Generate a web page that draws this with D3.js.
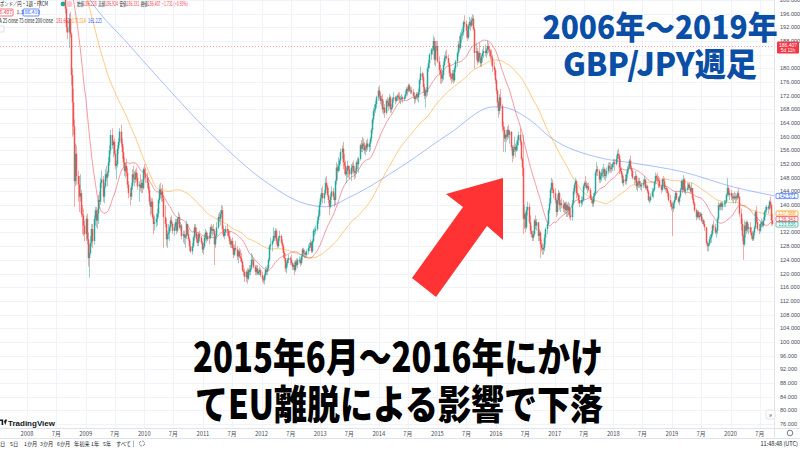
<!DOCTYPE html>
<html lang="ja">
<head>
<meta charset="utf-8">
<script src="https://cdn.jsdelivr.net/npm/d3@7"></script>
<style>
  html, body { margin: 0; padding: 0; background: #fff; }
  svg { display: block; }
</style>
</head>
<body>
<div id="chart"></div>
<script>
// GBP/JPY weekly candles, one [high, low, close] per week; open = previous close
const startOpen = 244.5;
const w2007 = [[247.5,244,246.8],[249.5,246,249],[251.1,247,248],[249,240.5,242],[243.5,238,240.5],[242.5,236,237.2],[237.5,216.5,225],[233,224,232],[233.5,226,229.5],[232,223,226],[229,221.5,228],[234,227,232.5],[236,230,234.8],[238.5,234,237.5],[241,235.5,239],[240.5,230.5,232],[236.5,228,235],[238,232.5,234],[235,228,230.5],[232,222,226],[229,222,223.5],[233,222.5,232],[235,228.5,230.5],[232,226,227],[229,224.5,225.5],[227,222,222.5]];
const w2008 = [[223.5,218,219],[220,213,214.5],[216,208,209.5],[212,204.5,210],[213.5,207.5,208.5],[211,206,210],[213,209,211.5],[214,209.5,212.5],[214,205,206],[207.5,201,203],[205,200.5,201.5],[203.5,197.5,200.5],[202.5,199.2,200.8],[205,200.5,204],[204.5,200.5,202],[205,201,204.5],[208,203.5,206.5],[209,203,204],[205,201,202.5],[205.5,201.5,204.5],[206,202,203],[207.5,202.5,206.5],[211,205,209.5],[213.5,208.5,212.5],[214.5,210.5,212],[214,210.5,213.5],[214.5,210.5,212],[213,208.5,211.5],[215.5,210,214],[215.5,211.5,213.5],[214.5,210,211.5],[212,207,208],[209,204.5,205.5],[207,200.5,202],[203.5,196,197.5],[199,190.5,192],[194,188.5,190.5],[196,186,194.5],[196.5,189,190],[190.5,175,178],[180,160,170],[174,160.5,163],[165,139.5,147],[158,145.5,155],[157.5,146,148.5],[150,141,146],[148.5,138,142.5],[149,141,143.5],[144.5,136.5,137.5],[140,131.5,137],[139,131,134],[135.5,129.5,131.5]];
const w2009 = [[137,129.5,136],[137.5,128.5,130],[132,122,124.5],[128.5,118.8,126],[131,125.5,129],[134.5,128,133],[134.5,127.5,129.5],[137,128.5,136],[139.5,134,138.5],[139.5,133.5,135.5],[139,133,137.5],[143,134.5,141.5],[144,139,141],[148,140,146.5],[150,145,147.5],[148.5,141,142.5],[146.5,140.5,145.5],[150.5,145,149],[151.5,147,148],[150,145.5,149.5],[154,148.5,152.5],[157.5,151.5,156],[162,155,160.5],[162.5,156.5,157.5],[159,154,158.5],[159.5,154.5,155],[156,150.5,151.5],[153,147.5,152],[157.5,151,156.5],[159.5,155,158.5],[162.5,157.5,161.5],[163.5,157,158],[159.5,153.5,155.5],[157,151.5,152.5],[154,148.5,150],[152.5,148,151.5],[153.5,148.5,149.5],[151,145,146],[147,142,143.5],[145,140,142.5],[146.5,141.5,145.5],[150.5,144.5,149],[151.5,146.5,148],[150,145.5,147.5],[150.5,146.5,149.5],[151,147,148],[149.5,144.5,145.5],[147,141,146],[149,144,145],[147.5,143.5,146.5],[147.5,143.5,145],[151,144.5,150.5]];
const w2010 = [[152,147.5,149],[151,146.5,148],[149.5,145,146.5],[148,143.5,144.5],[145.5,140,141],[142.5,137,139.5],[142,137.5,141],[142,136,136.5],[137.5,131.5,134.5],[137,132.5,135],[137.5,133.5,136],[139,134,137.5],[142,136.5,141.5],[146,140.5,144.5],[146.5,142,143],[145,141,144],[146,141,142],[143,127.5,136.5],[140,133.5,134.5],[136,128,130],[132.5,127.5,131.5],[134.5,130,132],[134,129.5,133.5],[136.5,132.5,135.5],[137,134,134.5],[135,131.5,132.5],[134.5,131,133.5],[136,132.5,135],[136,131.5,132.5],[136.5,132,136],[138,134.5,136.5],[137.5,133,133.5],[135,132.5,134],[134.5,130,131],[132.5,129,131.5],[132.5,128.5,130.5],[131.5,127.5,131],[135.5,130,134.5],[134.5,131,131.5],[133,129.5,130],[130.5,126.5,128],[129.5,126,126.5],[129,125.5,128],[131,127.5,130.5],[134.5,129.5,133.5],[134.5,131,132],[133.5,129,130],[131.5,128,129],[132,128,131.5],[132.5,129.5,130.5],[131,128.5,129],[129.5,126,127]];
const w2011 = [[129,125.5,128],[131.5,127.5,130.5],[133,129.5,132],[132.5,129,130],[132,129.5,131],[132,128.5,130.5],[134,130,133.5],[134.5,131.5,132.5],[134,131,133],[134.5,131.5,132.5],[133,122.5,128.5],[131.5,127.5,131],[135,130,133.5],[137.5,133,136.5],[138,135,136],[138.5,134,137.5],[140,136.5,138.5],[139.8,132,133],[134,130.5,131],[133,130,132],[134,131,133],[134.5,131,132.5],[133,130.5,131],[132.5,128.5,129.5],[130.5,127.5,128.5],[130,127.5,129.5],[130.5,127,127.5],[128.5,124.5,125.5],[128.5,125,127.5],[129.5,126.5,127],[128,124,125],[127,123,126.5],[127.5,124.5,125],[127,123.5,124.5],[126,123,123.5],[124,120.5,121],[122.5,119.5,120.5],[121.5,117.5,119],[121,117.5,120.5],[121.5,117,118.5],[121.5,118,121],[122.5,119.5,120.5],[122.5,119.5,121.5],[126,121,124],[125.5,122.5,124],[124.5,121.5,122],[122.5,119.5,120.5],[122.5,119.5,121.5],[122.5,119.5,120],[121,119.5,120.5],[122,119.5,121],[121.5,119,119.5]];
const w2012 = [[120.5,117.5,118.5],[119,117,118],[120,116.8,119.5],[122,118.5,121],[122,119.5,120.5],[122.5,119.5,121.5],[124.5,121,124],[128.5,123.5,128],[130.5,127,128.5],[130,126.5,129.5],[133.5,129,131],[132.5,129.5,130.5],[133.3,130,132.5],[133,128.5,129.5],[130,127.5,128],[131,127.5,130.5],[132.5,129.5,131],[131.5,128.5,129],[130,127,128],[128.5,124.5,126],[126.5,123.5,124.5],[124.5,120.5,121.5],[123.5,120,123],[124.5,122,124],[125.5,123,124.5],[125,122.5,124],[125.5,122.5,123],[123.5,121,122],[123,121,122.5],[123.5,119.5,121],[124,120.5,123.5],[124.5,122,122.5],[124.5,121.5,124],[125,123,124],[124.5,122,123],[125.5,122.5,125],[127.5,124,127],[127.5,125,126],[127,124.5,126],[126.5,124.5,125.5],[127,124.5,126.5],[128.5,125.5,127.5],[129,126.5,128],[130,127.5,129],[129.5,126,126.5],[130,126,129.5],[133,129,132.5],[133.5,131,132.5],[134,131.5,133],[136.5,132.5,135.5],[138.5,134.5,137],[141,136.5,140]];
const w2013 = [[143,139.5,142],[145,141,143.5],[145.5,140.5,142],[144.5,140.5,143.5],[148,143,146.5],[148.5,144.5,145.5],[146,142.5,143],[145,140.5,141.5],[141.5,137,139.5],[143.5,139,142.5],[145.5,141.5,144],[145,141.5,142.5],[143.5,139.5,141.5],[147.5,140,147],[152.5,146,151],[152,147.5,150],[154,149.5,151.5],[153.5,150,153],[156.5,152,155.5],[157.5,153.5,156.5],[158.5,150.5,152.5],[155,149,151.5],[153,148.5,149],[151,146.5,150],[153,148,151.5],[151.5,148,150.5],[151.5,147.5,149],[152,147,151],[152.5,149.5,151.5],[153,149,150],[151.5,147.5,149.5],[151,148,150],[153,149,152.5],[154,150.5,152],[154,149.5,153.5],[158,153,157.5],[159,155.5,156.5],[160,155.5,158],[159.5,156,157.5],[158.5,155,156],[157.5,154.5,156.5],[159,155.5,158],[159.5,156,157],[158.5,155.5,158],[160,156,159.5],[162.5,158.5,162],[165.5,161,165],[168.5,164,167.5],[169.5,166,168],[170.5,167,169.5],[172,168.5,171.5],[174.5,170.5,173.5]];
const w2014 = [[175,171,172],[173,169.5,170.5],[172,169,171],[172.5,167,168],[170.5,166.5,168.5],[169.5,165.5,167],[171,166.5,170.5],[171.5,168.5,170],[171,167.5,169],[172.5,168.5,171.5],[172,167,168],[169.5,167,168.5],[171.5,168,171],[173,170,171.5],[172,169.5,170.5],[172,170,171.5],[172.5,170.5,172],[173,170.5,171.5],[173,170,171],[172,169.5,171],[172.5,170.5,171.5],[172,170,171],[172,170.5,171.5],[173.5,171,172.5],[174.5,172,174],[174.5,172,173.5],[175.5,173,175],[175.5,173,173.5],[174.5,172.5,173.5],[174.5,172.5,173],[174,171.5,172],[173,169.5,171],[172,170,171.5],[173,171,172.5],[173,170.5,171.5],[174,170,173],[177,172.5,176.5],[180.5,175.5,178.5],[179,176.5,177.5],[178.5,173,174.5],[175.5,171,172],[174,168.5,173.5],[174.5,171.5,173],[180.5,172,180],[182.5,179,181.5],[184.5,180,184],[186,182.5,185.5],[186.5,184,185.5],[189.5,185,188],[189,181,182.5],[188,180.5,186.5],[188,185,186.5]];
const w2015 = [[188,181.5,182],[183.5,178,179.5],[181,175.5,178.5],[180,175.5,177],[179.5,176,178],[182,176.5,181],[184,180.5,183],[185,182,183.5],[185.5,182.5,183],[184,180.5,181.5],[181.5,177.5,178.5],[180,176.5,177.5],[178.5,175.5,177],[179.5,176,178.5],[179.5,175.5,176.5],[180.5,176,180],[182.5,179,182],[185,180.5,184.5],[188,183.5,187],[189.5,185,186],[190.5,185.5,189.5],[191.5,187.5,190],[192,188.5,190.5],[194,189.5,193.5],[195.5,192,193],[194,189,191],[192.5,188,189],[193,188.5,192.5],[195,191.5,193.5],[194.5,191,192.5],[195,192,194],[195.8,192.5,194.5],[195.5,191,191.5],[192,180,184.5],[187.5,182.5,185],[186,181,182],[185,181.5,184.5],[187.5,182,183],[184.5,180.5,181.5],[184,180.5,183.5],[185.5,182,184.5],[186.5,183,185],[187,183.5,184.5],[186,183,185.5],[188,184,186.5],[187.5,184.5,185.5],[186.5,183.5,185],[185.5,182.5,183.5],[185.5,181,183],[184,179,180.5],[182,178,179.5],[180,175.5,176.5]];
const w2016 = [[177,172.5,173.5],[174,168.5,170],[170.5,165.5,167.5],[172.5,166.5,171.5],[174,168,169],[169.5,161.5,163],[164.5,155.5,162],[163,158.5,159.5],[161,155.5,160.5],[162,158.5,160],[163,159,162],[163.5,159.5,160.5],[162,158,161.5],[161.5,156,157],[157.5,152.5,154.5],[157.5,153.5,156.5],[160,155.5,157],[158,154,156],[158.5,155.5,157.5],[160,156,159],[161.5,157.5,160.5],[162.5,157.5,158.5],[159,153,153.5],[154,148.5,151],[160.5,131.5,136],[140,133,137.5],[138,132,133.5],[139.5,133,138.5],[141,137,139.5],[140.5,134.5,135],[137,131.5,132.5],[134,130.5,131.5],[132.5,129.5,130.5],[132.5,129.5,131.5],[136,131,135.5],[137,133,134],[136,132.5,135],[135,129.5,131],[133,129.5,132],[132.5,124.5,128.5],[130,126.5,127.5],[129,125.5,127],[128.5,125.5,127.5],[131.5,126.5,130.5],[133.5,128.5,133],[135.5,131.5,134.5],[139,134,138.5],[142,137.5,140.5],[145,140,144.5],[148,143.5,146.5],[147.5,143.5,144.5],[145,142,143.5]];
const w2017 = [[145,140.5,141.5],[142,136.5,138],[143,137,141.5],[144.5,140.5,143.5],[144,138.5,140],[141.5,138,140.5],[142,139,140],[141.5,138,139],[141,137.5,140.5],[141,137.5,138.5],[141,136.5,140],[140.5,136.5,138.5],[141,137,139.5],[140.5,136,137],[139,135.5,136.5],[141.5,135.5,140.5],[145,140,144],[146.5,143,146],[148,145,147],[147.5,142,143.5],[145.5,142.5,143],[143.5,140.5,141.5],[143,139.5,140.5],[142.5,139.5,141.5],[142.5,140,141.5],[146,141,145.5],[147,144.5,146.5],[148.5,145,146],[147,144.5,145],[146.5,143.5,145.5],[146.5,144,144.5],[145,141.5,142],[143,140.5,141.5],[142,139.5,140.5],[143.5,139.5,142.5],[144,141,143.5],[150,143,149.5],[152.5,148.5,150.5],[151.5,148.5,150],[150.5,146.5,147.5],[149.5,146.5,148.5],[150.5,147,149.5],[151,148,149.5],[152,148,150.5],[151,147.5,148.5],[150.5,147,149],[151,148,150],[152.5,149,151.5],[152.5,149.5,151],[152.5,149.5,150.5],[152,149.5,151],[152.5,150,152]];
const w2018 = [[153.5,151,152.5],[153.5,150,152],[154.5,151.5,153.5],[156,152.5,155],[156.5,153.5,154.5],[155,149,151],[153.5,149.5,150],[151,148,149],[149.5,146,146.5],[148.5,145.5,147.5],[149,146,147],[150,146,149],[151.5,148,150.5],[152,149.5,151],[153.5,150.5,153],[154.5,150.5,151],[151.5,148.5,150],[150.5,147.5,148],[148.5,146,147.5],[150,146.5,148.5],[149,144.5,145.5],[147,144,146.5],[148,145,147],[148,145,146],[147,144.5,145.5],[146.5,144,146],[147.5,145,146.5],[148.5,145.5,147.5],[147.5,144.5,145],[146,144.5,145.5],[146,143.5,144],[144.5,141,141.5],[142.5,140.5,141.5],[143.5,141,142.5],[145,142.5,144],[145,142,144.5],[147,144,146.5],[149.5,146,148.5],[149,147,148],[149.5,146.5,147.5],[148.5,145,147],[148,145,145.5],[146,143.5,144.5],[148,144,147.5],[148.5,145.5,147],[148,144.5,145],[146,144,145],[145.5,143.5,144.5],[145,142.5,143.5],[144,141,141.5],[143,139.5,140.5],[141,138.5,139.5]];
const w2019 = [[141,131,139],[141,138,140.5],[142.5,139,141.5],[144,141,143.5],[144,141.5,142],[142.5,140.5,141],[143,140,142.5],[145,142,144.5],[147.5,144.5,147],[147.5,143.5,144.5],[148.8,144,147.5],[148,143.5,144],[145.5,143,144.5],[146.5,144,145],[146.5,144.5,146],[146.5,144.5,145],[145.5,143.5,144],[146.5,143.5,145],[145,141.5,142],[143,140,140.5],[141,138,138.5],[139,135.5,136.5],[138.5,136,138],[138.5,136,136.5],[138,135.5,137],[138,136.5,137.5],[137.5,135,135.5],[136.5,134.5,135.5],[136,134,134.5],[135.5,132.5,133.5],[133,128.5,129],[129.5,126.5,128],[129,126.5,128.5],[131,128,130],[131.5,129,130.5],[132.5,129,131.5],[134.5,131,134],[135.5,132.5,133.5],[134.5,131.5,132],[133,130.5,132.5],[136.5,131.5,136],[141,135.5,140],[140.5,138.5,139.5],[141,138.5,140.5],[141,138.5,139.5],[141,138.5,140.5],[141.5,139.5,140.5],[141.5,139.5,141],[143.5,140.5,143],[147.9,142.5,145],[145.5,142.5,143],[144.5,141.5,143.5]];
const w2020 = [[144.5,141.5,142.5],[143.5,141,142],[143.5,140.5,142.5],[144,141.5,142],[143.5,140.5,142.5],[143,141,142],[144,141.5,143.5],[144.9,142,142.5],[142.5,136.5,137.5],[139,132.5,134.5],[136,129.5,131],[131.5,124,128.5],[135.5,128,134],[135,130.5,132.5],[135.5,131.5,135],[135.5,132,133],[134.5,131.5,133.5],[135,131.5,132],[133.5,130,131],[132.5,129.5,130],[132.5,129.5,132],[134,131,133.5],[138.5,133,138],[139.7,134.5,135],[136.5,132.5,133],[134.5,131.5,132.5],[135,132,134.5],[136,133.5,135],[135.5,133.5,134],[136.5,133.5,135.5],[138.5,135.5,138],[139.5,136.5,138.5],[140,137.5,139.5],[140,137.5,139],[141.5,138.5,141],[142.5,139,140],[140.5,134,135.5],[137.5,134,134.5]];

// year, first month, rows
const yearBlocks = [[2007, 6, w2007], [2008, 0, w2008], [2009, 0, w2009], [2010, 0, w2010], [2011, 0, w2011], [2012, 0, w2012], [2013, 0, w2013], [2014, 0, w2014], [2015, 0, w2015], [2016, 0, w2016], [2017, 0, w2017], [2018, 0, w2018], [2019, 0, w2019], [2020, 0, w2020]];

// 200-week MA (decimal year, price)
const ma200Year = [2007.5, 2008.0, 2008.5, 2008.8, 2009.16, 2009.71, 2010.27, 2011.12, 2012.10, 2012.66, 2013.09, 2013.51, 2014.37, 2015.22, 2015.95, 2016.07, 2016.58, 2016.92, 2017.78, 2018.34, 2019.19, 2020.05, 2020.85];
const ma200Value = [207, 209.5, 210, 207, 197.9, 187.4, 176.6, 161.1, 146.5, 140.9, 139.5, 142.4, 151.1, 161.1, 168.7, 168.7, 164.9, 159.9, 153.8, 152.3, 149.7, 145.3, 142.4];

const priceTicks = d3.range(76, 201, 4);
const hiddenTicks = [136, 184]; // covered by the value tags on the price scale
const axisYears = d3.range(2008, 2021);
const lastPrice = 186.407;
const tagValues = [142.571, 137.688, 136.343, 133.836];
const tagColors = ["#2962ff", "#ff9800", "#f23645", "#22ab94"];
const tagY = [196, 213.5, 219, 224.5];
const rangeButtons = ["1日", "5日", "1か月", "3か月", "6か月", "年初来", "1年", "5年", "すべて"];
const rangeX = [-3, 10, 24, 40, 57, 74, 91, 103, 116];

const width = 800, height = 450;
const plotRight = 774, plotBottom = 428;
const up = "#26a69a", down = "#ef5350";
const uiFont = "'Noto Sans CJK JP', 'Noto Sans', sans-serif";
const numFont = "'Liberation Sans', Arial, sans-serif";

const svg = d3.select("#chart")
  .append("svg")
    .attr("width", width)
    .attr("height", height)
    .attr("viewBox", [0, 0, width, height]);

svg.append("rect").attr("width", width).attr("height", height).attr("fill", "#fff");

const x = d3.scaleTime()
  .domain([new Date(2008, 0, 1), new Date(2020, 0, 1)])
  .range([27, 730.5]);

const y = d3.scaleLinear()
  .domain([76, 196])
  .range([424, 13.6]);

// candles
let prev = startOpen;
const candles = [];
yearBlocks.forEach(([yr, m, rows]) => {
  rows.forEach(([h, l, c], i) => {
    candles.push({ date: new Date(yr, m, 1 + 7 * i), o: prev, h, l, c });
    prev = c;
  });
});

const sma = n => candles
  .map((d, i) => i < n - 1 ? null : { date: d.date, v: d3.mean(candles.slice(i - n + 1, i + 1), e => e.c) })
  .filter(d => d);

const fromYear = t => {
  const yr = Math.floor(t);
  return new Date(yr, 0, 1 + Math.round((t - yr) * 365));
};
const ma200 = ma200Year.map((t, i) => ({ date: fromYear(t), v: ma200Value[i] }));

svg.append("clipPath").attr("id", "plot")
  .append("rect").attr("width", plotRight).attr("height", plotBottom);

const timeTicks = [];
axisYears.forEach(yr => {
  timeTicks.push({ date: new Date(yr, 0, 1), label: String(yr) });
  timeTicks.push({ date: new Date(yr, 6, 1), label: "7月" });
});

// grid
const grid = svg.append("g").attr("clip-path", "url(#plot)");
grid.selectAll(".vgrid")
  .data(timeTicks)
  .join("line")
    .attr("x1", d => Math.round(x(d.date)) + 0.5)
    .attr("x2", d => Math.round(x(d.date)) + 0.5)
    .attr("y1", 0)
    .attr("y2", plotBottom)
    .attr("stroke", "#f0f3fa");
grid.selectAll(".hgrid")
  .data(priceTicks)
  .join("line")
    .attr("x1", 0)
    .attr("x2", plotRight)
    .attr("y1", d => Math.round(y(d)) + 0.5)
    .attr("y2", d => Math.round(y(d)) + 0.5)
    .attr("stroke", "#f0f3fa");

const plot = svg.append("g").attr("clip-path", "url(#plot)");

// current price line
plot.append("line")
  .attr("x1", 0).attr("x2", plotRight)
  .attr("y1", Math.round(y(lastPrice)) + 0.5).attr("y2", Math.round(y(lastPrice)) + 0.5)
  .attr("stroke", "#f23645").attr("stroke-opacity", 0.45)
  .attr("stroke-dasharray", "1,2");

// moving averages
const maLine = d3.line().x(d => x(d.date)).y(d => y(d.v));
plot.append("path").datum(ma200)
  .attr("d", d3.line().x(d => x(d.date)).y(d => y(d.v)).curve(d3.curveMonotoneX))
  .attr("fill", "none").attr("stroke", "#2962ff").attr("stroke-opacity", 0.4).attr("stroke-width", 1);
plot.append("path").datum(sma(75))
  .attr("d", maLine)
  .attr("fill", "none").attr("stroke", "#ff9800").attr("stroke-opacity", 0.5).attr("stroke-width", 1);
plot.append("path").datum(sma(25))
  .attr("d", maLine)
  .attr("fill", "none").attr("stroke", "#f23645").attr("stroke-opacity", 0.5).attr("stroke-width", 1);

// candles
const cg = plot.append("g");
cg.selectAll(".wick")
  .data(candles)
  .join("line")
    .attr("x1", d => Math.round(x(d.date)) + 0.5)
    .attr("x2", d => Math.round(x(d.date)) + 0.5)
    .attr("y1", d => y(Math.max(d.h, d.o, d.c)))
    .attr("y2", d => y(Math.min(d.l, d.o, d.c)))
    .attr("stroke", d => d.c >= d.o ? up : down)
    .attr("stroke-opacity", 0.5);
cg.selectAll(".body")
  .data(candles)
  .join("rect")
    .attr("x", d => Math.round(x(d.date)) - 0.25)
    .attr("width", 1.5)
    .attr("y", d => y(Math.max(d.o, d.c)))
    .attr("height", d => Math.max(0.8, Math.abs(y(d.o) - y(d.c))))
    .attr("fill", d => d.c >= d.o ? up : down);

// separators
svg.append("line").attr("x1", plotRight + 0.5).attr("x2", plotRight + 0.5).attr("y1", 0).attr("y2", 438)
  .attr("stroke", "#e0e3eb");
svg.append("line").attr("x1", 0).attr("x2", width).attr("y1", plotBottom + 0.5).attr("y2", plotBottom + 0.5)
  .attr("stroke", "#e0e3eb");
svg.append("line").attr("x1", 0).attr("x2", width).attr("y1", 438.5).attr("y2", 438.5)
  .attr("stroke", "#e0e3eb");

// price axis
svg.append("g")
  .selectAll("text")
  .data(priceTicks.filter(d => !hiddenTicks.includes(d)))
  .join("text")
    .attr("x", 780)
    .attr("y", d => y(d) + 2)
    .attr("font-family", numFont)
    .attr("font-size", 5.6)
    .attr("fill", "#4a4e59")
    .text(d => d3.format(".3f")(d));

// MA value tags
const tags = svg.append("g");
tagValues.forEach((v, i) => {
  tags.append("rect")
    .attr("x", 776).attr("y", tagY[i] - 2.6).attr("width", 22).attr("height", 5.2).attr("rx", 1)
    .attr("fill", "#fff").attr("stroke", tagColors[i]).attr("stroke-width", 0.7);
  tags.append("text")
    .attr("x", 787).attr("y", tagY[i] + 1.7).attr("text-anchor", "middle")
    .attr("font-family", numFont).attr("font-size", 4.8)
    .attr("fill", tagColors[i]).text(d3.format(".3f")(v));
});

// last price tag
svg.append("rect").attr("x", 777).attr("y", 41.5).attr("width", 22).attr("height", 12).attr("rx", 1)
  .attr("fill", "#f23645");
svg.append("text").attr("x", 788).attr("y", 46.6).attr("text-anchor", "middle")
  .attr("font-family", numFont).attr("font-size", 5).attr("fill", "#fff")
  .text(d3.format(".3f")(lastPrice));
svg.append("text").attr("x", 788).attr("y", 52.2).attr("text-anchor", "middle")
  .attr("font-family", numFont).attr("font-size", 4.8).attr("fill", "#fff")
  .text("5d 11h");

// time axis
svg.append("g")
  .selectAll("text")
  .data(timeTicks.filter(d => x(d.date) < plotRight - 4))
  .join("text")
    .attr("x", d => x(d.date))
    .attr("y", 435.5)
    .attr("text-anchor", "middle")
    .attr("font-family", uiFont)
    .attr("font-size", 5.8)
    .attr("fill", "#4a4e59")
    .text(d => d.label);

// gear and scroll button
svg.append("circle").attr("cx", 790).attr("cy", 433).attr("r", 2.8)
  .attr("fill", "none").attr("stroke", "#6a6d78").attr("stroke-width", 0.9);
svg.append("rect").attr("x", 766).attr("y", 410).attr("width", 9).attr("height", 9).attr("rx", 2)
  .attr("fill", "#fff").attr("stroke", "#e0e3eb");
svg.append("text").attr("x", 770.5).attr("y", 417).attr("text-anchor", "middle")
  .attr("font-family", uiFont).attr("font-size", 7).attr("fill", "#4a4e59").text("»");

// bottom toolbar
svg.append("g")
  .selectAll("text")
  .data(rangeButtons)
  .join("text")
    .attr("x", (d, i) => rangeX[i])
    .attr("y", 445.5)
    .attr("font-family", uiFont)
    .attr("font-size", 5.2)
    .attr("fill", "#131722")
    .text(d => d);
svg.append("line").attr("x1", 133.5).attr("x2", 133.5).attr("y1", 440.5).attr("y2", 447)
  .attr("stroke", "#b2b5be");
svg.append("circle").attr("cx", 142).attr("cy", 443.5).attr("r", 2.6)
  .attr("fill", "none").attr("stroke", "#6a6d78").attr("stroke-width", 0.8).attr("stroke-dasharray", "3,1");
svg.append("text").attr("x", 798).attr("y", 445.5).attr("text-anchor", "end")
  .attr("font-family", uiFont).attr("font-size", 5.6).attr("fill", "#131722")
  .text("11:48:48 (UTC)");

// TradingView mark
svg.append("path").attr("d", "M0,419.5h3.2v5.5h-1.6v-3.9h-1.6z M4,421.5l1.3,3.5l1.8,-5.5h-1.9z").attr("fill", "#131722");
svg.append("text").attr("x", 8).attr("y", 425.5)
  .attr("font-family", numFont).attr("font-size", 8).attr("font-weight", 700)
  .attr("fill", "#131722").text("TradingView");

// legend, top-left
const legend = svg.append("g").attr("font-family", uiFont).attr("font-size", 5.6);
legend.append("text").attr("x", 0).attr("y", 6).attr("fill", "#131722")
  .attr("textLength", 48).attr("lengthAdjust", "spacingAndGlyphs")
  .text("ポンド／円・1週・FXCM");
legend.append("circle").attr("cx", 63).attr("cy", 4).attr("r", 2.4).attr("fill", "#22ab94");
legend.append("rect").attr("x", 66).attr("y", 1).attr("width", 6).attr("height", 6).attr("rx", 1.5).attr("fill", "#fbc9cf");
const ohlc = legend.append("text").attr("x", 77).attr("y", 6)
  .attr("textLength", 111).attr("lengthAdjust", "spacingAndGlyphs");
[["始値", "186.228"], ["高値", "186.924"], ["安値", "186.331"], ["終値", "186.407"]].forEach(([k, v], i) => {
  ohlc.append("tspan").attr("fill", "#131722").attr("dx", i ? 2.5 : 0).text(k);
  ohlc.append("tspan").attr("fill", "#f23645").text(v);
});
ohlc.append("tspan").attr("fill", "#f23645").attr("dx", 2.5).text("+1.731 (+0.93%)");

legend.append("rect").attr("x", -3).attr("y", 9).attr("width", 16).attr("height", 7).attr("rx", 1)
  .attr("fill", "#fff").attr("stroke", "#f23645").attr("stroke-width", 0.7);
legend.append("text").attr("x", 12).attr("y", 14.2).attr("text-anchor", "end").attr("font-size", 5)
  .attr("fill", "#f23645").text("186.407");
legend.append("text").attr("x", 16.5).attr("y", 14.2).attr("font-size", 5).attr("fill", "#131722").text("1.1");
legend.append("rect").attr("x", 23).attr("y", 9).attr("width", 16).attr("height", 7).attr("rx", 1)
  .attr("fill", "#fff").attr("stroke", "#2962ff").attr("stroke-width", 0.7);
legend.append("text").attr("x", 31).attr("y", 14.2).attr("text-anchor", "middle").attr("font-size", 5)
  .attr("fill", "#2962ff").text("186.419");

legend.append("text").attr("x", -4).attr("y", 23).attr("fill", "#131722")
  .attr("textLength", 57).attr("lengthAdjust", "spacingAndGlyphs")
  .text("MA 25 close 75 close 200 close");
[["181.662", "#f23645", 56], ["172.514", "#ff9800", 72], ["161.225", "#2962ff", 88]].forEach(([t, c, px]) => {
  legend.append("text").attr("x", px).attr("y", 23).attr("fill", c)
    .attr("textLength", 14).attr("lengthAdjust", "spacingAndGlyphs").text(t);
});
legend.append("rect").attr("x", -3).attr("y", 26).attr("width", 7).attr("height", 6).attr("rx", 1)
  .attr("fill", "#fff").attr("stroke", "#c9cbd1").attr("stroke-width", 0.6);

// annotations
const note = svg.append("g").attr("font-family", "'Noto Sans CJK JP', sans-serif").attr("font-weight", 900);
note.append("text").attr("x", 660).attr("y", 39).attr("text-anchor", "middle")
  .attr("font-size", 32).attr("fill", "#0a4ea6")
  .attr("textLength", 235).attr("lengthAdjust", "spacingAndGlyphs")
  .text("2006年〜2019年");
note.append("text").attr("x", 660).attr("y", 76).attr("text-anchor", "middle")
  .attr("font-size", 32).attr("fill", "#0a4ea6")
  .attr("textLength", 194).attr("lengthAdjust", "spacingAndGlyphs")
  .text("GBP/JPY週足");

note.append("text").attr("x", 398).attr("y", 372).attr("text-anchor", "middle")
  .attr("font-size", 40).attr("fill", "#000")
  .attr("textLength", 410).attr("lengthAdjust", "spacingAndGlyphs")
  .text("2015年6月〜2016年にかけ");
note.append("text").attr("x", 399).attr("y", 419).attr("text-anchor", "middle")
  .attr("font-size", 40).attr("fill", "#000")
  .attr("textLength", 408).attr("lengthAdjust", "spacingAndGlyphs")
  .text("てEU離脱による影響で下落");

// red arrow
svg.append("path")
  .attr("d", "M503,178 L503,240 L487,226 L436,297 L412,278 L463,207 L446,194 Z")
  .attr("fill", "#ff3333");
</script>
</body>
</html>
